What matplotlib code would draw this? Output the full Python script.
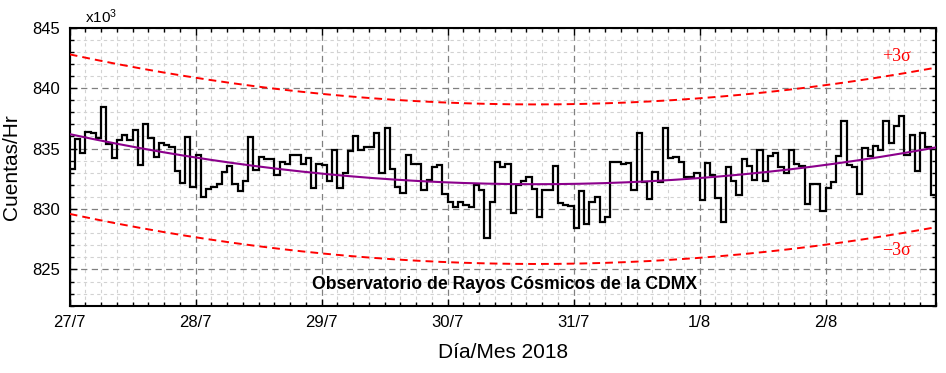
import numpy as np
import matplotlib
matplotlib.use("Agg")
import matplotlib.pyplot as plt
from matplotlib.ticker import MultipleLocator, FixedLocator

plt.rcParams['font.family'] = ['Liberation Sans', 'DejaVu Sans']
plt.rcParams['mathtext.default'] = 'regular'

# cuentas por hora (x10^3), una por hora desde 27/7 00h
cuentas = [
    833.3, 835.8, 834.65, 836.4, 836.25, 835.9, 838.4, 835.4, 834.25, 835.7,
    836.1, 835.75, 836.55, 833.65, 837.0, 835.9, 834.3, 835.45, 835.3, 835.15,
    833.15, 832.15, 835.95, 831.85, 834.45, 831.0, 831.65, 831.8, 832.1, 833.05,
    833.55, 832.1, 831.5, 832.3, 835.95, 833.2, 834.3, 834.1, 834.1, 832.8,
    833.9, 833.75, 834.5, 834.5, 833.7, 834.25, 831.75, 833.75, 833.65, 832.35,
    834.9, 831.7, 833.0, 834.8, 836.0, 834.85, 835.15, 835.15, 836.25, 833.0,
    836.7, 833.3, 831.85, 831.3, 834.45, 833.75, 833.75, 831.55, 832.4, 833.5,
    833.65, 831.25, 830.55, 830.2, 830.6, 830.35, 830.2, 832.0, 831.55, 827.6,
    830.6, 833.85, 833.45, 833.75, 829.65, 831.95, 832.3, 832.65, 831.65, 829.3,
    831.6, 831.6, 833.6, 830.5, 830.3, 830.25, 828.4, 831.5, 828.75, 830.55,
    831.0, 828.9, 829.35, 833.9, 833.85, 833.75, 833.8, 831.6, 836.3, 832.25,
    830.85, 833.1, 832.25, 836.7, 834.2, 834.3, 833.9, 832.65, 832.65, 833.0,
    830.75, 833.8, 832.8, 830.95, 828.9, 833.45, 832.3, 831.15, 834.1, 833.6,
    832.4, 834.9, 832.35, 834.4, 834.6, 833.5, 833.0, 834.9, 833.75, 833.55,
    830.4, 832.05, 832.05, 829.85, 831.7, 832.25, 834.35, 837.3, 833.65, 833.5,
    831.25, 835.05, 834.4, 835.2, 834.85, 837.25, 835.5, 836.85, 837.7, 834.5,
    836.1, 833.15, 836.25, 835.15, 831.15,
]
dias = ['27/7', '28/7', '29/7', '30/7', '31/7', '1/8', '2/8']
sigma = 2.2

cuentas = np.array(cuentas)
bordes = np.arange(len(cuentas) + 1) / 24.0
centros = (bordes[:-1] + bordes[1:]) / 2

# ajuste cuadratico
coef = np.polyfit(centros, cuentas, 2)
xs = np.linspace(0, bordes[-1], 300)
ajuste = np.polyval(coef, xs)

fig = plt.figure(figsize=(9.46, 3.73), dpi=100)
ax = fig.add_axes([0.0737, 0.1804, 0.9157, 0.7453])

ax.stairs(cuentas, bordes, color='black', lw=1.6, zorder=4)
ax.plot(xs, ajuste, color='#8b008b', lw=1.5, zorder=5)
ax.plot(xs, ajuste + 3 * sigma, color='red', lw=1.4, dashes=(4, 2.6), zorder=5)
ax.plot(xs, ajuste - 3 * sigma, color='red', lw=1.4, dashes=(4, 2.6), zorder=5)

ax.set_xlim(0, bordes[-1])
ax.set_ylim(822, 845)
ax.xaxis.set_major_locator(FixedLocator(range(len(dias))))
ax.set_xticklabels(dias)
ax.xaxis.set_minor_locator(MultipleLocator(0.125))
ax.yaxis.set_major_locator(MultipleLocator(5))
ax.yaxis.set_minor_locator(MultipleLocator(1))

ax.grid(which='major', color='#808080', ls=(0, (5, 3.5)), lw=0.9, zorder=1)
ax.grid(which='minor', color='#d2d2d2', ls=(0, (3, 3)), lw=0.8, zorder=0)

ax.tick_params(which='both', direction='in', top=True, right=True, width=1.0)
ax.tick_params(which='major', length=5, labelsize=12, pad=7)
ax.tick_params(which='minor', length=3)
for s in ax.spines.values():
    s.set_linewidth(1.5)

ax.set_ylabel('Cuentas/Hr', fontsize=15, labelpad=8)
ax.set_xlabel('Día/Mes 2018', fontsize=15, labelpad=9)

ax.text(0.018, 1.005, r'x10$^3$', transform=ax.transAxes, fontsize=11,
        ha='left', va='bottom')
ax.text(3.45, 823.75, 'Observatorio de Rayos Cósmicos de la CDMX',
        fontsize=12.7, fontweight='bold', ha='center', va='center', zorder=6)
ax.text(6.56, 842.6, '+3σ', color='red', fontsize=13,
        family=['Liberation Serif', 'DejaVu Serif'], ha='center', va='center')
ax.text(6.56, 826.6, '\u22123σ', color='red', fontsize=13,
        family=['Liberation Serif', 'DejaVu Serif'], ha='center', va='center')

fig.savefig('out.png', dpi=100)
